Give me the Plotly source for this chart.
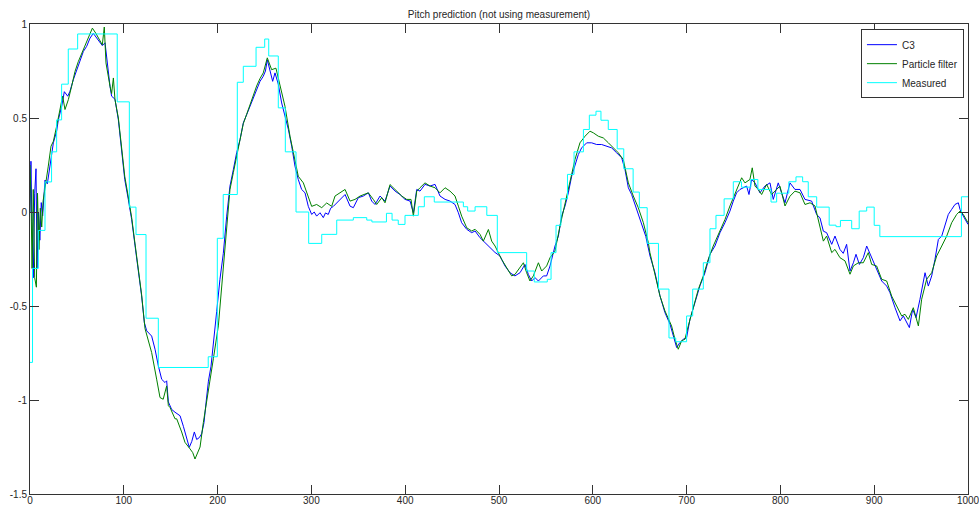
import plotly.graph_objects as go

# ---------------- data ----------------
c3_x = [0, 1, 2, 3.5, 5, 6.4, 7.5, 9, 10.5, 12, 13.5, 15, 16, 18.5, 21.3, 24.9, 28.4, 30.2, 33.8, 36.6,
        40.2, 42.6, 46.2, 49.8, 53.3, 56.9, 60.4, 64, 67.5, 71.1, 74.6, 77.1, 80, 82, 85.3, 87, 90.6, 94.2,
        97.7, 101, 104.8, 108.4, 112, 115.5, 119, 121.9, 124.4, 129.7, 133.3, 136.8, 140.4, 143.9, 145.7,
        147.5, 151, 154.6, 158, 160, 163.5, 166.5, 169.8, 172.5, 175.2, 177.7, 180.5, 183, 185.5, 188,
        190.2, 193, 195.4, 199, 202.5, 206.1, 209.7, 213.2, 216.8, 220.3, 223.9, 227.4, 231, 234.5, 238.1,
        241.6, 245.2, 248.7, 251, 253, 255.8, 258.7, 261.2, 264.7, 268.3, 271.8, 275.4, 279, 282.5, 286,
        289.6, 293.2, 296.7, 300.3, 303, 305.6, 309.2, 312.7, 315, 318, 320.5, 323.4, 327, 330.5, 335.9,
        341.2, 344.7, 350, 355.4, 360.7, 364.3, 367.8, 373.2, 378.5, 383.8, 389.2, 394.5, 399.8, 405.2,
        408.7, 412.3, 415.8, 421.1, 426.5, 431.8, 437.1, 442.5, 447.8, 453.1, 456.7, 460.2, 465.6, 470.9,
        474.5, 479.8, 485.1, 490.4, 495.7, 501, 506.4, 511.7, 517, 522.4, 527.7, 531.3, 534.8, 538.4, 542,
        547.3, 550.8, 554.4, 559.7, 563.3, 566.8, 570.4, 573.9, 577.5, 581, 584.6, 588.1, 593.5, 598.8,
        604.1, 609.4, 614.8, 620.1, 625.4, 630.8, 634.3, 637.9, 641.4, 646.8, 652.1, 656.5, 661, 666.3,
        671.6, 676.9, 682.3, 685.8, 689.4, 692.9, 696.5, 700, 703.6, 708.9, 714.2, 719.6, 724.9, 730.2,
        735.6, 740.9, 746.2, 749.8, 753.3, 756.9, 760.4, 764, 766.5, 769.3, 772.9, 778.2, 783.5, 788.9,
        792.4, 797.7, 804.9, 810.2, 815.5, 820.9, 826.2, 833.3, 838.7, 842.2, 845.8, 849.3, 854.7, 858.2,
        863.5, 867, 870.6, 874.2, 877.8, 880.6, 884.2, 888.4, 892, 895.5, 899.1, 904.4, 908, 913.3, 916.8,
        922.2, 927.5, 931.1, 934, 937.5, 941, 944.6, 948.8, 954.2, 957.7, 961.3, 964.8, 968.4, 972, 975.5,
        979, 982.6, 986.1, 989.7, 991.5, 995, 1000]
c3_y = [0.0, 0.27, -0.05, -0.35, 0.1, 0.23, -0.3, 0.0, -0.15, 0.05, -0.02, 0.1, 0.17, 0.15, 0.244, 0.368,
        0.43, 0.49, 0.562, 0.64, 0.616, 0.642, 0.704, 0.757, 0.81, 0.854, 0.881, 0.925, 0.95, 0.925, 0.907,
        0.885, 0.9, 0.8, 0.669, 0.616, 0.6, 0.49, 0.315, 0.173, 0.067, -0.04, -0.18, -0.305, -0.446,
        -0.588, -0.632, -0.66, -0.73, -0.818, -0.89, -0.907, -0.898, -1.01, -1.05, -1.065, -1.08, -1.084,
        -1.14, -1.2, -1.252, -1.22, -1.17, -1.21, -1.2, -1.18, -1.12, -1.0, -0.9, -0.82, -0.69, -0.53,
        -0.358, -0.22, -0.022, 0.138, 0.226, 0.315, 0.385, 0.474, 0.518, 0.562, 0.615, 0.66, 0.695, 0.722,
        0.75, 0.81, 0.757, 0.695, 0.74, 0.68, 0.58, 0.51, 0.44, 0.35, 0.244, 0.173, 0.12, 0.102, 0.03,
        -0.013, 0.0, -0.022, -0.004, -0.03, -0.005, -0.013, 0.02, 0.03, 0.048, 0.067, 0.093, 0.031, 0.023,
        0.076, 0.085, 0.102, 0.058, 0.04, 0.085, 0.058, 0.138, 0.111, 0.093, 0.067, 0.058, -0.004, 0.12,
        0.111, 0.147, 0.138, 0.147, 0.085, 0.067, 0.058, 0.04, -0.004, -0.057, -0.092, -0.11, -0.101,
        -0.137, -0.163, -0.19, -0.215, -0.234, -0.287, -0.323, -0.34, -0.323, -0.279, -0.332, -0.367,
        -0.349, -0.367, -0.34, -0.34, -0.287, -0.181, -0.128, -0.022, 0.032, 0.102, 0.191, 0.244, 0.306,
        0.341, 0.368, 0.368, 0.359, 0.359, 0.35, 0.341, 0.315, 0.288, 0.226, 0.129, 0.093, 0.014, -0.057,
        -0.13, -0.234, -0.323, -0.446, -0.535, -0.597, -0.659, -0.721, -0.694, -0.677, -0.668, -0.57,
        -0.482, -0.393, -0.323, -0.225, -0.181, -0.11, -0.057, 0.005, 0.058, 0.102, 0.12, 0.129, 0.138,
        0.093, 0.173, 0.155, 0.102, 0.138, 0.155, 0.067, 0.155, 0.049, 0.155, 0.12, 0.12, 0.067, 0.058,
        -0.014, -0.031, -0.102, -0.11, -0.172, -0.128, -0.199, -0.22, -0.172, -0.314, -0.27, -0.225,
        -0.279, -0.243, -0.181, -0.22, -0.26, -0.323, -0.367, -0.394, -0.429, -0.509, -0.579, -0.553,
        -0.58, -0.615, -0.517, -0.562, -0.464, -0.323, -0.394, -0.34, -0.252, -0.146, -0.128, -0.075,
        -0.013, 0.014, 0.04, 0.049, 0.014, -0.022, -0.066]

pf_x = [0, 1, 2.2, 3.5, 5, 6.8, 8, 9.5, 11, 12.5, 14, 16, 19.5, 22.4, 24.9, 28.4, 32, 34.8, 37.3, 40.9,
        44.4, 48, 51.5, 55.1, 58.6, 62.9, 66.5, 70, 73.6, 77.1, 79.2, 81, 85.3, 87, 88.9, 90.6, 94.2, 97.7,
        101, 104.8, 108.4, 112, 115.5, 119, 122.6, 126, 129.7, 135, 138.6, 142, 145.7, 147.5, 149.3, 154.6,
        156.4, 161.7, 165.2, 170.6, 173.5, 175.9, 178.5, 181.3, 184.8, 190.2, 195.5, 200.8, 206.1, 209.7,
        213.2, 216.8, 220.3, 223.9, 227.4, 231, 234.5, 238.1, 241.6, 245.2, 248.7, 253, 257.6, 262.2,
        266.5, 271.8, 277.2, 282.5, 286, 291.4, 296.7, 300.3, 305.6, 311, 316.3, 321.6, 325.2, 330.5,
        335.9, 341.2, 346.5, 351.9, 357.2, 360.7, 366, 369.6, 375, 378.5, 383.8, 389.2, 396.3, 401.6,
        406.2, 408.7, 412.3, 415.8, 421.1, 426.5, 431.8, 437.1, 442.5, 447.8, 453.1, 456.7, 460.2, 465.6,
        470.9, 474.5, 479.8, 483.3, 488.7, 492.2, 495.8, 502.8, 508.2, 513.5, 517, 522.4, 526, 529.5,
        533, 536.6, 542, 545.5, 550.8, 554.4, 559.7, 565, 570.4, 575.7, 581, 586.3, 591.7, 597, 600.6,
        605.9, 611.2, 616.6, 621.9, 627.2, 632.5, 637.9, 643.2, 648.5, 653.9, 659.2, 660.9, 666.3, 671.6,
        676.9, 684, 687.6, 691.1, 694.7, 698.2, 701.8, 705.4, 712.5, 717.8, 723.1, 728.4, 733.8, 740.9,
        746.2, 749.8, 755.1, 758.7, 762.2, 767.5, 770, 772.9, 776.4, 780, 785.3, 790.6, 796, 799.5,
        804.9, 810.2, 815.5, 820.9, 826.2, 831.6, 836.9, 840.4, 845.8, 849.3, 854.7, 858.2, 863.5,
        868.9, 874.2, 877.8, 883.1, 888.4, 893.7, 897.3, 902.6, 908, 913.3, 918.6, 924, 929.3, 932.8,
        936.4, 941.7, 947.1, 950.6, 955.9, 961.3, 966.6, 972, 977.3, 982.6, 987.9, 991.5, 995, 1000]
pf_y = [0.25, 0.1, -0.3, 0.12, -0.35, -0.4, 0.1, -0.2, 0.02, -0.08, 0.06, 0.138, 0.244, 0.35, 0.376,
        0.456, 0.545, 0.616, 0.545, 0.598, 0.669, 0.748, 0.8, 0.845, 0.881, 0.943, 0.978, 0.952, 0.916,
        0.889, 0.984, 0.793, 0.669, 0.63, 0.713, 0.598, 0.5, 0.33, 0.19, 0.08, -0.03, -0.17, -0.3, -0.44,
        -0.62, -0.68, -0.748, -0.889, -0.987, -0.996, -0.925, -1.03, -1.04, -1.1, -1.1, -1.17, -1.225,
        -1.26, -1.28, -1.314, -1.28, -1.25, -1.12, -0.96, -0.78, -0.606, -0.305, -0.06, 0.12, 0.21, 0.3,
        0.38, 0.47, 0.52, 0.57, 0.63, 0.67, 0.71, 0.74, 0.82, 0.757, 0.765, 0.669, 0.563, 0.403, 0.279,
        0.19, 0.155, 0.085, 0.03, 0.04, 0.023, 0.048, 0.03, 0.085, 0.102, 0.12, 0.058, 0.067, 0.085,
        0.093, 0.102, 0.067, 0.04, 0.076, 0.049, 0.146, 0.12, 0.085, 0.067, 0.067, -0.022, 0.111, 0.129,
        0.155, 0.138, 0.129, 0.102, 0.129, 0.111, 0.085, 0.031, -0.022, -0.084, -0.101, -0.092, -0.119,
        -0.155, -0.093, -0.155, -0.181, -0.252, -0.296, -0.34, -0.332, -0.296, -0.27, -0.323, -0.367,
        -0.34, -0.27, -0.314, -0.287, -0.243, -0.208, -0.075, 0.049, 0.173, 0.279, 0.368, 0.403, 0.43,
        0.421, 0.403, 0.394, 0.368, 0.341, 0.315, 0.279, 0.155, 0.085, 0.023, -0.057, -0.163, -0.216,
        -0.331, -0.446, -0.526, -0.606, -0.677, -0.73, -0.685, -0.677, -0.606, -0.535, -0.411, -0.34,
        -0.252, -0.181, -0.119, -0.04, 0.032, 0.076, 0.138, 0.182, 0.155, 0.173, 0.235, 0.138, 0.12,
        0.093, 0.147, 0.093, 0.12, 0.138, 0.032, 0.084, 0.111, 0.102, 0.04, 0.049, 0.032, -0.04, -0.155,
        -0.128, -0.216, -0.199, -0.243, -0.26, -0.331, -0.287, -0.27, -0.27, -0.216, -0.279, -0.287,
        -0.358, -0.367, -0.447, -0.5, -0.553, -0.544, -0.571, -0.509, -0.606, -0.464, -0.358, -0.323,
        -0.234, -0.181, -0.128, -0.057, -0.013, 0.005, -0.013, -0.057]

meas_x = [0, 2.7, 8.9, 16, 23, 28.4, 33.7, 40.8, 50.8, 93, 105.9, 113, 123.7, 136.8, 190, 199.7, 206,
          221, 227.4, 241, 250.2, 254.5, 264.7, 272.2, 283.6, 297.1, 311, 327, 344.7, 359, 364.5, 380,
          386, 392.6, 399.8, 414, 420.4, 431, 462, 466.6, 474.5, 487, 498.2, 529.5, 537.6, 551.5, 555.5,
          560.8, 566, 573, 580, 590, 596.3, 603.4, 608.7, 616.5, 626, 633, 643, 649.6, 658, 670, 681.2,
          688.4, 700, 706.5, 717.8, 724.9, 731.3, 740, 749.8, 758.5, 768.5, 776, 790, 796, 809, 816.6,
          823.7, 829.7, 838.7, 852, 859.3, 864, 876, 884, 892, 900, 906, 993, 1000]
meas_y = [-0.80, -0.30, -0.098, 0.16, 0.32, 0.49, 0.68, 0.867, 0.947, 0.586, 0.026, -0.12, -0.565, -0.827,
          -0.77, -0.14, 0.093, 0.69, 0.775, 0.876, 0.92, 0.83, 0.554, 0.32, 0.0, -0.167, -0.119, -0.043,
          -0.03, -0.043, -0.053, -0.007, -0.043, -0.066, -0.018, 0.028, 0.081, 0.053, 0.028, 0.005, 0.028,
          -0.018, -0.216, -0.314, -0.372, -0.358, -0.216, -0.071, 0.07, 0.2, 0.32, 0.439, 0.515, 0.536,
          0.488, 0.439, 0.336, 0.23, 0.106, 0.023, -0.167, -0.41, -0.67, -0.69, -0.553, -0.41, -0.27,
          -0.089, -0.018, 0.07, 0.161, 0.132, 0.173, 0.12, 0.053, 0.1, 0.161, 0.187, 0.161, 0.081, 0.026,
          -0.07, -0.078, -0.045, -0.089, 0.005, 0.026, -0.071, -0.131, 0.081, 0.081]

x_ticks = [0, 100, 200, 300, 400, 500, 600, 700, 800, 900, 1000]
y_ticks = [-1.5, -1, -0.5, 0, 0.5, 1]
y_labels = ["-1.5", "-1", "-0.5", "0", "0.5", "1"]

# ---------------- figure ----------------
fig = go.Figure()
fig.add_trace(go.Scatter(x=c3_x, y=c3_y, mode="lines", name="C3",
                         line=dict(color="#0000FF", width=1)))
fig.add_trace(go.Scatter(x=pf_x, y=pf_y, mode="lines", name="Particle filter",
                         line=dict(color="#008000", width=1)))
fig.add_trace(go.Scatter(x=meas_x, y=meas_y, mode="lines", name="Measured",
                         line=dict(color="#00FFFF", width=1, shape="hv")))

font_family = "Liberation Sans, Arial, sans-serif"
axis_common = dict(showgrid=False, zeroline=False, showline=True, linecolor="#333333",
                   linewidth=1, mirror="ticks", ticks="inside", ticklen=9, tickwidth=1,
                   automargin=False, ticklabeloverflow="allow",
                   tickcolor="#333333", tickfont=dict(family=font_family, size=10, color="#262626"))

fig.update_layout(
    width=979, height=506,
    margin=dict(l=30, r=11, t=24, b=12),
    paper_bgcolor="white", plot_bgcolor="white",
    title=dict(text="Pitch prediction (not using measurement)", x=0.5, xref="paper",
               y=1 - 14 / 506, yref="container", yanchor="middle", xanchor="center",
               font=dict(family=font_family, size=10, color="#262626")),
    xaxis=dict(range=[0, 1000], tickvals=x_ticks, ticktext=[str(v) for v in x_ticks],
               ticklabelstandoff=-3, **axis_common),
    yaxis=dict(range=[-1.5, 1], tickvals=y_ticks, ticktext=y_labels, **axis_common),
    legend=dict(x=0.9957, y=0.989, xanchor="right", yanchor="top", bgcolor="white",
                bordercolor="#333333", borderwidth=1, tracegroupgap=0, itemwidth=30,
                font=dict(family=font_family, size=10, color="#262626")),
    showlegend=True,
)

fig.write_html("out.html")
